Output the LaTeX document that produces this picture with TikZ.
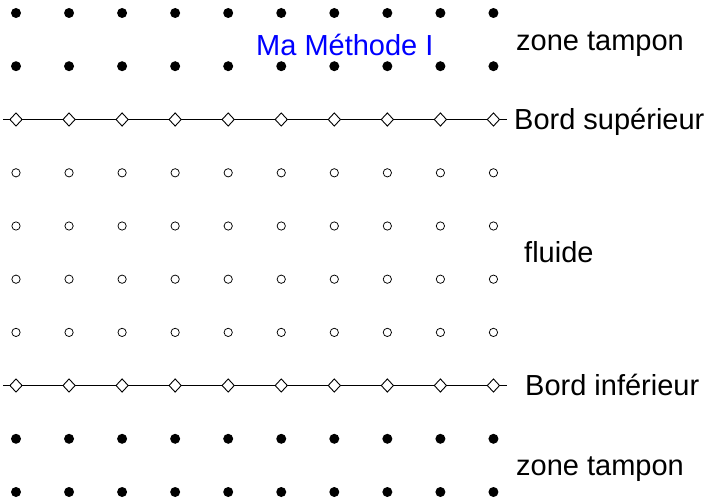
\documentclass[tikz,border=0pt]{standalone}
\usepackage{fontspec}
\setmainfont{Liberation Sans}
\usetikzlibrary{shapes.geometric}
\begin{document}
\begin{tikzpicture}[x=1pt,y=-1pt,
  dotpt/.style={circle,fill=black,inner sep=0pt,minimum size=10pt},
  fluidpt/.style={circle,draw=black,line width=0.75pt,inner sep=0pt,minimum size=8.3pt},
  bordpt/.style={diamond,draw=black,fill=white,line width=0.9pt,inner sep=0pt,minimum width=12.5pt,minimum height=13.5pt},
  lbl/.style={anchor=base west,inner sep=0pt,font=\fontsize{29}{33}\selectfont},
  bordline/.style={line width=1pt}]
\useasboundingbox (0,0) rectangle (713,503);
% boundary lines
\coordinate (us) at (3,119.5);
\coordinate (ue) at (507,119.5);
\coordinate (ls) at (3,385.5);
\coordinate (le) at (507,385.5);
\draw[bordline] (us) -- (ue);
\draw[bordline] (ls) -- (le);
\foreach \i in {0,...,9}{
  \pgfmathsetmacro{\xx}{16+53.05*\i}
  \node[dotpt] (a\i) at (\xx,13) {};
  \node[dotpt] (b\i) at (\xx,66.2) {};
  \node[bordpt] (c\i) at (\xx,119.5) {};
  \node[fluidpt] (f\i) at (\xx,172.8) {};
  \node[fluidpt] (g\i) at (\xx,226) {};
  \node[fluidpt] (h\i) at (\xx,279.2) {};
  \node[fluidpt] (k\i) at (\xx,332.4) {};
  \node[bordpt] (m\i) at (\xx,385.5) {};
  \node[dotpt] (n\i) at (\xx,438.8) {};
  \node[dotpt] (p\i) at (\xx,492) {};
}
\node[lbl] (tz1) at (516,50.5) {zone tampon};
\node[lbl,text={rgb,255:red,0;green,0;blue,255}] (title) at (256,56) {Ma Méthode I};
\node[lbl] (bs) at (514,129.5) {Bord supérieur};
\node[lbl] (fl) at (524,262) {fluide};
\node[lbl] (bi) at (525,395) {Bord inférieur};
\node[lbl] (tz2) at (516,475) {zone tampon};
\end{tikzpicture}
\end{document}
